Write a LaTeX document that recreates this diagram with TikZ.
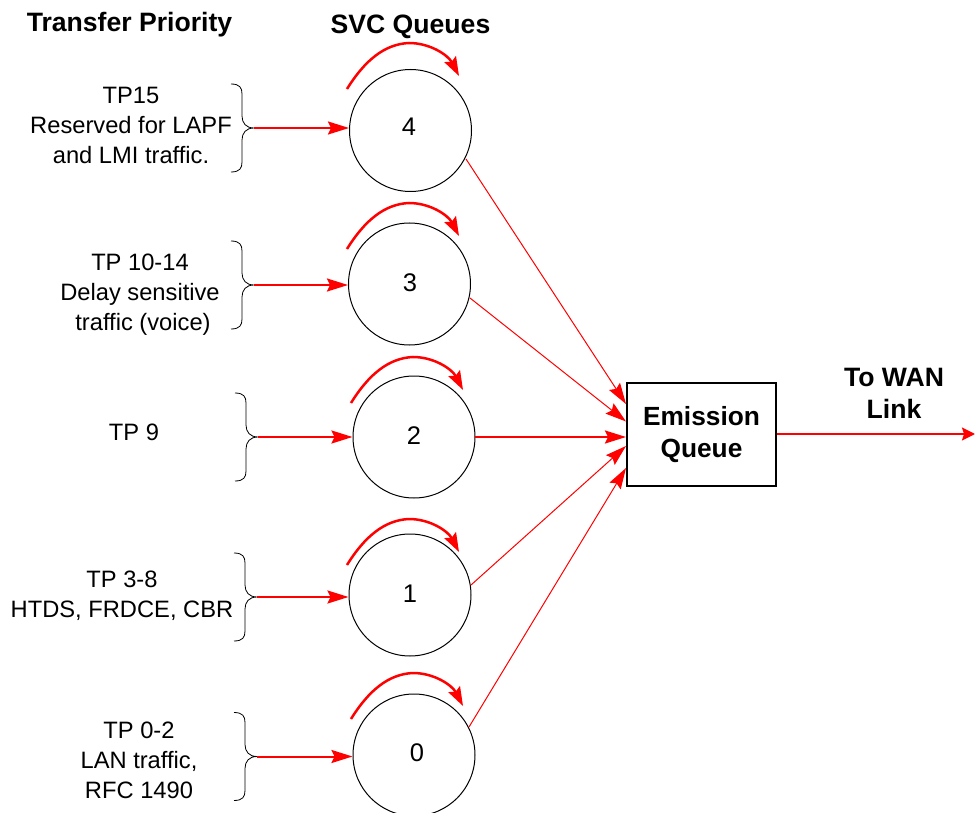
\documentclass[tikz,border=0pt]{standalone}
\usepackage{fontspec}
\setmainfont{Liberation Sans}
\usetikzlibrary{arrows.meta,calc}
\tikzset{
  x=1pt,y=-1pt,
  queue/.style={circle,draw=black,line width=1pt,minimum size=122pt,inner sep=0pt},
  digit/.style={inner sep=0pt,font=\fontsize{25.5}{28}\selectfont},
  lab/.style={align=center,inner sep=0pt,font=\fontsize{23.7}{30}\selectfont},
  head/.style={align=center,inner sep=0pt,font=\fontsize{26.6}{32}\selectfont\bfseries},
  emis/.style={draw=black,line width=2pt,minimum width=149pt,minimum height=103pt,inner sep=0pt,align=center,font=\fontsize{26.3}{32}\selectfont\bfseries},
  feed/.style={draw=red,line width=2pt,-{Stealth[length=21pt,width=13pt,inset=3pt]}},
  thin feed/.style={draw=red,line width=1pt,-{Stealth[length=21pt,width=13pt,inset=3pt]}},
  out feed/.style={draw=red,line width=2pt,-{Stealth[length=13pt,width=13pt,inset=2pt]}},
  turn/.style={draw=red,line width=2.5pt,-{Stealth[length=19pt,width=13pt,inset=3pt]}},
  brace/.style={draw=black,line width=0.8pt}
}
\newcommand{\bracepath}[3]{% x of tip, y mid, half height
  \draw[brace] (#1-23,#2-#3) .. controls (#1-14,#2-#3) and (#1-12,#2-#3+4) .. (#1-12,#2-#3+10)
    -- (#1-12,#2-12) .. controls (#1-12,#2-5) and (#1-8,#2) .. (#1,#2)
    .. controls (#1-8,#2) and (#1-12,#2+5) .. (#1-12,#2+12)
    -- (#1-12,#2+#3-10) .. controls (#1-12,#2+#3-4) and (#1-14,#2+#3) .. (#1-23,#2+#3);
}
\begin{document}
\begin{tikzpicture}
\useasboundingbox (0,0) rectangle (975,813);
\node[head] (tp) at (129.5,25) {Transfer Priority};
\node[head] (svc) at (410.5,27) {SVC Queues};
\node[head] (wan) at (894,393) {To WAN\\Link};

\node[lab] (l4) at (131,125) {TP15\\Reserved for LAPF\\and LMI traffic.};
\node[lab] (l3) at (140,295) {TP 10-14\\Delay sensitive\\\hspace*{6pt}traffic (voice)};
\node[lab] (l2) at (134,432) {TP 9};
\node[lab] (l1) at (122,595.5) {TP 3-8\\HTDS, FRDCE, CBR};
\node[lab] (l0) at (139,760) {TP 0-2\\LAN traffic,\\RFC 1490};

\node[queue] (q4) at (410.5,130.5) {};
\node[queue] (q3) at (409.5,284) {};
\node[queue] (q2) at (414,437) {};
\node[queue] (q1) at (410,595) {};
\node[queue] (q0) at (414,755) {};
\node[digit] (d4) at (409,127) {4};
\node[digit] (d3) at (410,283) {3};
\node[digit] (d2) at (414,436) {2};
\node[digit] (d1) at (410,594) {1};
\node[digit] (d0) at (417,753) {0};

\node[emis] (e) at (701.5,434.5) {Emission\\Queue};

\coordinate (b4) at (254,128);
\coordinate (b3) at (254,285);
\coordinate (b2) at (258,437);
\coordinate (b1) at (257,597);
\coordinate (b0) at (257,756.5);
\bracepath{254}{128}{44}
\bracepath{254}{285}{44}
\bracepath{258}{437}{44}
\bracepath{257}{597}{44}
\bracepath{257}{756.5}{44}

\draw[feed] (b4) -- (b4 -| q4.west);
\draw[feed] (b3) -- (b3 -| q3.west);
\draw[feed] (b2) -- (b2 -| q2.west);
\draw[feed] (b1) -- (b1 -| q1.west);
\draw[feed] (b0) -- (b0 -| q0.west);

\coordinate (e4) at (626,404);
\coordinate (e3) at (626,421.5);
\coordinate (e2) at (626,437);
\coordinate (e1) at (626,446);
\coordinate (e0) at (626,468);
\coordinate (o4) at (466,159);
\coordinate (o3) at (470,298);
\coordinate (o2) at (475,437);
\coordinate (o1) at (471,585);
\coordinate (o0) at (469,727);
\draw[thin feed] (o4) -- (e4);
\draw[thin feed] (o3) -- (e3);
\draw[feed] (o2) -- (e2);
\draw[thin feed] (o1) -- (e1);
\draw[thin feed] (o0) -- (e0);

\coordinate (out) at (975,434);
\draw[out feed] (e.east |- out) -- (out);

\foreach \n/\cx/\cy in {a/0/0,b/0/160,c/4/314,d/0/476,f/4/630}{
  \coordinate (s\n) at ($(347,89)+(\cx,\cy)$);
  \coordinate (t\n) at ($(459,76)+(\cx,\cy)$);
  \draw[turn] (s\n) .. controls ($(365,60)+(\cx,\cy)$) and ($(385,44)+(\cx,\cy)$) .. ($(409,43)+(\cx,\cy)$)
     .. controls ($(430,43)+(\cx,\cy)$) and ($(448,55)+(\cx,\cy)$) .. (t\n);
}
\end{tikzpicture}
\end{document}
